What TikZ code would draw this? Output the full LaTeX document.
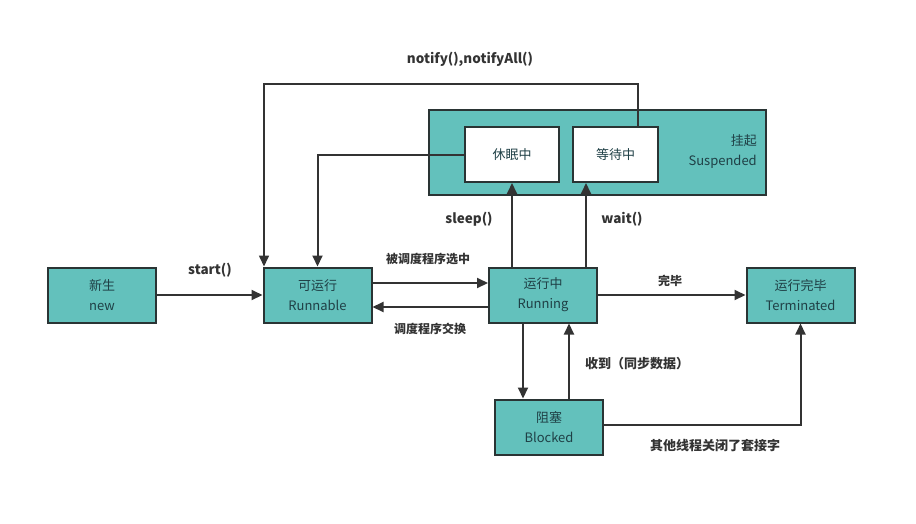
\documentclass[tikz,border=0pt]{standalone}
\usepackage{fontspec}
\setmainfont{Noto Sans CJK SC}
\usetikzlibrary{arrows.meta}
\definecolor{teal1}{HTML}{63C1BC}
\definecolor{boxtext}{HTML}{1F4046}
\definecolor{edge}{HTML}{2A3434}
\definecolor{linec}{HTML}{333333}
\tikzset{
  state/.style={draw=edge, line width=2pt, fill=teal1, text=boxtext,
    minimum width=108pt, minimum height=55pt, align=center, inner sep=0pt,
    font=\fontsize{13}{20}\selectfont},
  subbox/.style={draw=edge, line width=2pt, fill=white, text=boxtext,
    minimum height=55pt, align=center, inner sep=0pt,
    font=\fontsize{13}{20}\selectfont},
  suspbox/.style={draw=edge, line width=2pt, fill=teal1, inner sep=0pt},
  arr/.style={draw=linec, line width=2pt, -{Triangle[length=11pt,width=10pt]}},
  lbl/.style={text=linec, font=\fontsize{12}{14}\selectfont\bfseries, inner sep=1pt},
  lbllat/.style={text=linec, font=\fontsize{13.5}{15}\selectfont\bfseries, inner sep=1pt},
  lblbig/.style={text=linec, font=\fontsize{13}{15}\selectfont\bfseries, inner sep=1pt}
}
\begin{document}
\begin{tikzpicture}[x=1pt,y=-1pt]
\useasboundingbox[fill=white] (0,0) rectangle (916,523);
% suspended group
\node[suspbox, minimum width=337pt, minimum height=85pt] (susp) at (597.5,152.5) {};
\node[anchor=east, align=right, text=boxtext, font=\fontsize{13}{20}\selectfont, inner sep=0pt] (susplbl) at (757,152) {挂起\\Suspended};
\node[subbox, minimum width=94pt] (sleep) at (512,154.5) {休眠中};
\node[subbox, minimum width=85pt] (wait) at (615.5,154.5) {等待中};
% states
\node[state] (new) at (102,295) {新生\\new};
\node[state] (run) at (317.5,295) {可运行\\Runnable};
\node[state] (ing) at (543,295) {运行中\\Running};
\node[state] (term) at (800.5,295) {运行完毕\\Terminated};
\node[state] (blk) at (549,427) {阻塞\\Blocked};
% connectors
\coordinate (ntop) at (450,84);
\draw[arr] (new) -- (run);
\draw[arr] ([yshift=12pt]run.east) -- ([yshift=12pt]ing.west);
\draw[arr] ([yshift=-12pt]ing.west) -- ([yshift=-12pt]run.east);
\draw[arr] (sleep.south |- ing.north) -- (sleep.south);
\draw[arr] ([xshift=43pt]ing.north) -- ([xshift=43pt]ing.north |- wait.south);
\draw[arr, line width=1.6pt] ([xshift=22.5pt]wait.north) |- (ntop) -| ([xshift=-53.5pt]run.north);
\draw[arr] (sleep.west) -| (run.north);
\draw[arr] (ing) -- (term);
\draw[arr] ([xshift=-20pt]ing.south) -- ([xshift=-20pt]ing.south |- blk.north);
\draw[arr] ([xshift=20pt]blk.north) -- ([xshift=20pt]blk.north |- ing.south);
\draw[arr] ([yshift=2pt]blk.east) -| (term.south);
% labels
\node[lbllat] (l1) at (210,270) {start()};
\node[lbllat] (l2) at (470,59) {notify(),notifyAll()};
\node[lbl] (l3) at (428,259) {被调度程序选中};
\node[lbl] (l4) at (430,329) {调度程序交换};
\node[lbllat] (l5) at (469,219) {sleep()};
\node[lbllat] (l6) at (622,219) {wait()};
\node[lbl] (l7) at (670,281) {完毕};
\node[lblbig] (l8) at (637,364) {收到（同步数据）};
\node[lblbig] (l9) at (715,446) {其他线程关闭了套接字};
\end{tikzpicture}
\end{document}
